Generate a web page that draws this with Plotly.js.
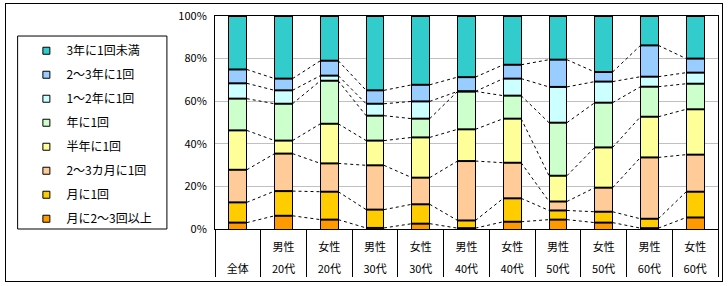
<!DOCTYPE html>
<html>
<head>
<meta charset="utf-8">
<script src="https://cdn.plot.ly/plotly-3.0.1.min.js"></script>
<style>
  html, body { margin: 0; padding: 0; background: #fff; }
  #wrap { position: relative; width: 728px; height: 286px; }
  #chart { width: 728px; height: 286px; }
  #frame {
    position: absolute; left: 5px; top: 3px; width: 716px; height: 277px;
    border: 1px solid #000; pointer-events: none;
  }
</style>
</head>
<body>
<div id="wrap">
  <div id="chart"></div>
  <div id="frame"></div>
</div>
<script>
// categories (bottom row = age / total, upper row = gender)
const ageLabels = ["全体", "20代", "20代", "30代", "30代", "40代", "40代", "50代", "50代", "60代", "60代"];
const genderLabels = ["", "男性", "女性", "男性", "女性", "男性", "女性", "男性", "女性", "男性", "女性"];

// series, bottom of the stack first (values in %)
const seriesNames = [
  "月に2～3回以上", "月に1回", "2～3カ月に1回", "半年に1回",
  "年に1回", "1～2年に1回", "2～3年に1回", "3年に1回未満",
];
const seriesColors = [
  "#FF9900", "#FFCC00", "#FFCC99", "#FFFF99",
  "#CCFFCC", "#CCFFFF", "#99CCFF", "#33CCCC",
];
const monthly2to3 = [3.0, 6.2, 4.4, 0.5, 2.5, 0.4, 3.4, 4.4, 3.0, 0.4, 5.4];
const monthly1 = [9.5, 11.6, 13.1, 8.6, 9.1, 3.6, 11.0, 4.3, 5.1, 4.4, 12.1];
const months2to3 = [15.3, 17.6, 13.3, 20.8, 12.5, 27.9, 16.7, 4.2, 11.3, 28.8, 17.4];
const halfYear = [18.5, 6.1, 18.6, 11.6, 18.9, 14.9, 20.7, 12.1, 18.9, 19.1, 21.3];
const yearly = [14.9, 17.3, 20.2, 11.7, 8.8, 17.8, 10.8, 24.9, 21.0, 14.1, 12.0];
const years1to2 = [7.2, 6.3, 2.4, 5.6, 8.1, 0.0, 8.0, 16.8, 9.9, 4.7, 5.2];
const years2to3 = [6.5, 5.5, 7.0, 6.3, 7.8, 6.7, 6.5, 12.8, 4.5, 14.7, 6.6];
const lessThan3y = [25.1, 29.4, 21.0, 34.9, 32.3, 28.7, 22.9, 20.5, 26.3, 13.8, 20.0];

const seriesValues = [monthly2to3, monthly1, months2to3, halfYear, yearly, years1to2, years2to3, lessThan3y];

const xs = ageLabels.map((_, i) => i);
const barWidth = 0.39;
const font = "'Noto Sans CJK JP', 'Noto Sans', sans-serif";

const traces = [];

// stacked bars
seriesValues.forEach((vals, s) => {
  traces.push({
    type: "bar",
    x: xs,
    y: vals,
    width: barWidth,
    name: seriesNames[s],
    marker: { color: seriesColors[s], line: { color: "#000", width: 1 } },
    showlegend: false,
    hoverinfo: "skip",
  });
});

// dotted series lines joining the top of each segment, plus the heavier
// segment borders across each bar
const cum = xs.map(() => 0);
const edgeX = [];
const edgeY = [];
seriesValues.slice(0, -1).forEach((vals) => {
  vals.forEach((v, i) => (cum[i] += v));
  const lx = [];
  const ly = [];
  for (let i = 0; i < xs.length - 1; i++) {
    lx.push(xs[i] + barWidth / 2, xs[i + 1] - barWidth / 2, null);
    ly.push(cum[i], cum[i + 1], null);
  }
  xs.forEach((x, i) => {
    edgeX.push(x - barWidth / 2, x + barWidth / 2, null);
    edgeY.push(cum[i], cum[i], null);
  });
  traces.push({
    type: "scatter",
    mode: "lines",
    x: lx,
    y: ly,
    line: { color: "#000", width: 1, dash: "dot" },
    showlegend: false,
    hoverinfo: "skip",
  });
});
traces.push({
  type: "scatter",
  mode: "lines",
  x: edgeX,
  y: edgeY,
  line: { color: "#000", width: 2 },
  showlegend: false,
  hoverinfo: "skip",
});

// legend entries with small square symbols, top series first
for (let s = seriesNames.length - 1; s >= 0; s--) {
  traces.push({
    type: "scatter",
    mode: "markers",
    x: [null],
    y: [null],
    name: seriesNames[s],
    legendgroup: "g" + s,
    marker: { symbol: "square", size: 7, color: seriesColors[s], line: { color: "#000", width: 1 } },
  });
}

// carrier for the upper label row
traces.push({ type: "scatter", x: [null], y: [null], xaxis: "x2", showlegend: false, hoverinfo: "skip" });

const seps = xs.map((i) => i - 0.5).concat([xs.length - 0.5]);

const layout = {
  width: 728,
  height: 286,
  margin: { l: 215, r: 10, t: 16, b: 57, pad: 0 },
  paper_bgcolor: "#fff",
  plot_bgcolor: "#fff",
  barmode: "stack",
  font: { family: font, size: 11, color: "#000" },
  xaxis: {
    range: [-0.5, xs.length - 0.5],
    tickmode: "array",
    tickvals: xs,
    ticktext: ageLabels,
    ticks: "",
    ticklabelstandoff: 30,
    showline: true,
    mirror: true,
    linecolor: "#000",
    linewidth: 1,
    showgrid: false,
    zeroline: false,
    tickfont: { size: 11 },
    minor: {
      tickmode: "array",
      tickvals: seps,
      ticks: "outside",
      ticklen: 47,
      tickcolor: "#000",
      tickwidth: 1,
      showgrid: false,
    },
  },
  xaxis2: {
    overlaying: "x",
    matches: "x",
    anchor: "y",
    side: "bottom",
    tickmode: "array",
    tickvals: xs,
    ticktext: genderLabels,
    ticks: "",
    ticklabelstandoff: 10,
    showline: false,
    showgrid: false,
    zeroline: false,
    tickfont: { size: 11 },
  },
  yaxis: {
    range: [0, 100],
    tickmode: "linear",
    tick0: 0,
    dtick: 20,
    ticksuffix: "%",
    ticks: "",
    ticklabelstandoff: 5,
    showgrid: true,
    gridcolor: "#c0c0c0",
    gridwidth: 1,
    showline: true,
    mirror: true,
    linecolor: "#000",
    linewidth: 1,
    zeroline: false,
    tickfont: { size: 11 },
  },
  showlegend: true,
  legend: {
    x: -0.375,
    xanchor: "left",
    y: 0.905,
    yanchor: "top",
    bgcolor: "rgba(0,0,0,0)",
    borderwidth: 0,
    tracegroupgap: 5,
    font: { size: 12 },
  },
  shapes: [
    {
      // legend box
      type: "rect",
      xref: "paper",
      yref: "paper",
      x0: -0.3924,
      x1: -0.0956,
      y0: 0,
      y1: 0.906,
      line: { color: "#000", width: 1 },
    },
  ],
};

Plotly.newPlot("chart", traces, layout, { displayModeBar: false, staticPlot: true });
</script>
</body>
</html>
